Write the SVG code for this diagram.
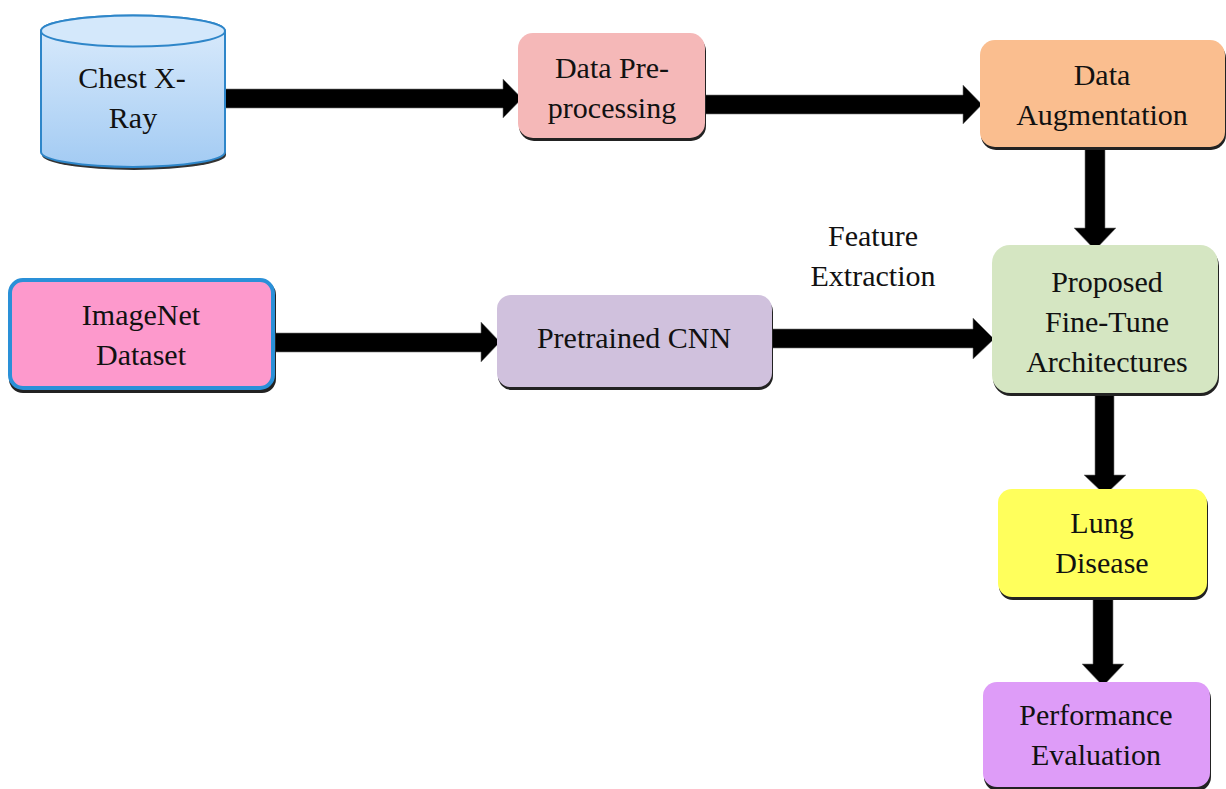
<svg xmlns="http://www.w3.org/2000/svg" width="1226" height="789" viewBox="0 0 1226 789">
<defs>
<linearGradient id="cyl" x1="0" y1="0" x2="0" y2="1">
<stop offset="0" stop-color="#dcecfc"/>
<stop offset="1" stop-color="#a3cbf3"/>
</linearGradient>
</defs>
<style>
.t{font-family:"Liberation Serif","Times New Roman",serif;font-size:30px;fill:#111;text-anchor:middle}
.sh{fill:#222}
.arr{fill:#000;stroke:#777;stroke-width:0.6}
</style>
<rect x="0" y="0" width="1226" height="789" fill="#fff"/>
<g id="connectors">
<polygon class="arr" points="222,89 503,89 503,79 522,98.5 503,118 503,108 222,108"/>
<polygon class="arr" points="705,95 963,95 963,85 982,104.5 963,124 963,114 705,114"/>
<polygon class="arr" points="1085,144 1105,144 1105,228 1116,228 1095,250 1074,228 1085,228"/>
<polygon class="arr" points="270,333 481,333 481,322 500,342 481,362 481,352 270,352"/>
<polygon class="arr" points="768,329 973,329 973,318 994,339 973,359 973,348 768,348"/>
<polygon class="arr" points="1095,394 1114,394 1114,475 1126,475 1105,495 1084,475 1095,475"/>
<polygon class="arr" points="1093,598 1113,598 1113,664 1124,664 1103,686 1082,664 1093,664"/>
</g>
<g id="chest-xray">
<path d="M41,31 L41,152 A92,15 0 0 0 225,152 L225,31" fill="#333" transform="translate(1,3)"/>
<path d="M41,31 L41,152 A92,15 0 0 0 225,152 L225,31 A92,15.5 0 0 0 41,31 Z" fill="url(#cyl)" stroke="#2e86c9" stroke-width="2"/>
<ellipse cx="133" cy="31" rx="92" ry="15.5" fill="#d4e8fb" stroke="#2e86c9" stroke-width="2"/>
<text class="t" x="132" y="88">Chest X-</text>
<text class="t" x="133" y="128">Ray</text>
</g>
<g id="data-preprocessing">
<rect class="sh" x="519" y="36" width="187" height="105" rx="15"/>
<rect x="518" y="33" width="187" height="105" rx="15" fill="#f5b8b8"/>
<text class="t" x="612" y="78">Data Pre-</text>
<text class="t" x="612" y="118">processing</text>
</g>
<g id="data-augmentation">
<rect class="sh" x="981" y="43" width="245" height="107" rx="15"/>
<rect x="980" y="40" width="245" height="107" rx="15" fill="#fabe8f"/>
<text class="t" x="1102" y="85">Data</text>
<text class="t" x="1102" y="125">Augmentation</text>
</g>
<g id="imagenet-dataset">
<rect class="sh" x="9" y="281" width="267" height="112" rx="14"/>
<rect x="10" y="280" width="263" height="108" rx="13" fill="#fd99cc" stroke="#2a90d8" stroke-width="4"/>
<text class="t" x="141" y="325">ImageNet</text>
<text class="t" x="141" y="365">Dataset</text>
</g>
<g id="pretrained-cnn">
<rect class="sh" x="498" y="298" width="275" height="92" rx="14"/>
<rect x="497" y="295" width="275" height="92" rx="14" fill="#d0c1dd"/>
<text class="t" x="634" y="348">Pretrained CNN</text>
</g>
<g id="feature-extraction-label">
<text class="t" x="873" y="246">Feature</text>
<text class="t" x="873" y="286">Extraction</text>
</g>
<g id="proposed-fine-tune">
<rect class="sh" x="993" y="248" width="226" height="148" rx="18"/>
<rect x="992" y="245" width="226" height="148" rx="18" fill="#d5e6c2"/>
<text class="t" x="1107" y="292">Proposed</text>
<text class="t" x="1107" y="332">Fine-Tune</text>
<text class="t" x="1107" y="372">Architectures</text>
</g>
<g id="lung-disease">
<rect class="sh" x="999" y="492" width="209" height="108" rx="14"/>
<rect x="998" y="489" width="209" height="108" rx="14" fill="#ffff5c"/>
<text class="t" x="1102" y="533">Lung</text>
<text class="t" x="1102" y="573">Disease</text>
</g>
<g id="performance-evaluation">
<rect class="sh" x="984" y="685" width="227" height="106" rx="14"/>
<rect x="983" y="682" width="227" height="105" rx="14" fill="#de9cf8"/>
<text class="t" x="1096" y="725">Performance</text>
<text class="t" x="1096" y="765">Evaluation</text>
</g>
</svg>
